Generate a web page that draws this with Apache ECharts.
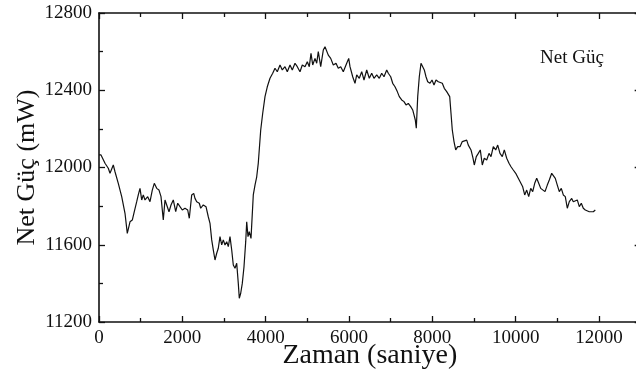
<!DOCTYPE html>
<html>
<head>
<meta charset="utf-8">
<script src="https://cdn.jsdelivr.net/npm/echarts@6/dist/echarts.min.js"></script>
<style>html,body{margin:0;padding:0;background:#fff}#c{width:636px;height:376px}</style>
</head>
<body>
<div id="c"></div>
<script>
const seriesName = 'Net Güç';
const xTitle = 'Zaman (saniye)';
const yTitle = 'Net Güç (mW)';
const times = [0,48,79,144,223,264,343,384,463,545,624,679,744,799,847,905,943,984,1025,1063,1104,1169,1224,1279,1327,1385,1440,1488,1543,1584,1625,1680,1728,1783,1841,1889,1944,1999,2064,2129,2167,2225,2273,2304,2345,2407,2441,2503,2568,2623,2664,2705,2743,2784,2825,2863,2904,2945,2983,3024,3065,3103,3144,3185,3223,3264,3305,3343,3367,3401,3439,3480,3521,3545,3576,3607,3648,3703,3744,3785,3823,3881,3929,3984,4039,4104,4169,4224,4279,4344,4399,4464,4519,4584,4639,4704,4759,4824,4879,4944,4999,5047,5088,5129,5184,5225,5263,5321,5383,5424,5465,5503,5561,5623,5688,5743,5801,5863,5945,5993,6024,6089,6144,6185,6247,6305,6360,6425,6487,6545,6600,6665,6727,6785,6840,6905,6943,7001,7049,7104,7159,7207,7265,7320,7368,7423,7481,7529,7560,7591,7615,7649,7687,7728,7769,7807,7848,7889,7944,7992,8040,8088,8143,8184,8239,8287,8345,8383,8417,8448,8479,8520,8561,8609,8664,8719,8767,8825,8863,8928,8976,9007,9055,9103,9151,9199,9247,9305,9360,9408,9463,9521,9569,9624,9679,9727,9785,9840,9888,9943,10001,10063,10104,10169,10217,10265,10313,10361,10409,10457,10505,10553,10601,10649,10704,10759,10807,10865,10903,10951,10999,11047,11095,11143,11191,11239,11287,11345,11383,11424,11479,11527,11575,11623,11671,11719,11767,11815,11863,11911];
const power = [12065,12065,12056,12022,11996,11970,12013,11978,11918,11849,11763,11659,11719,11728,11771,11823,11858,11892,11832,11858,11832,11849,11823,11883,11918,11892,11883,11849,11728,11832,11806,11771,11806,11832,11771,11815,11797,11780,11789,11780,11737,11858,11866,11840,11823,11815,11789,11806,11797,11745,11711,11625,11573,11521,11556,11582,11642,11599,11625,11599,11616,11590,11642,11573,11495,11478,11504,11400,11323,11349,11400,11486,11616,11719,11642,11668,11633,11858,11909,11952,12023,12194,12281,12367,12418,12462,12488,12514,12496,12531,12505,12522,12496,12531,12505,12540,12522,12496,12531,12522,12548,12522,12591,12531,12565,12540,12600,12522,12608,12625,12617,12582,12565,12531,12540,12514,12522,12496,12540,12565,12522,12470,12436,12479,12462,12496,12453,12505,12462,12488,12462,12479,12462,12488,12470,12505,12488,12470,12436,12418,12393,12367,12350,12341,12324,12332,12315,12298,12272,12246,12203,12367,12470,12540,12522,12505,12470,12444,12436,12453,12427,12453,12444,12453,12436,12410,12393,12393,12367,12281,12194,12134,12091,12108,12108,12134,12125,12142,12116,12091,12048,12013,12056,12073,12091,12013,12048,12039,12073,12056,12108,12091,12116,12073,12056,12091,12048,12022,12004,11987,11970,11944,11952,11900,11858,11883,11849,11892,11875,11918,11944,11918,11892,11883,11875,11909,11935,11970,11978,11944,11909,11875,11892,11858,11849,11789,11823,11840,11823,11815,11832,11797,11815,11789,11780,11789,11771,11780,11771,11780];
const xTicks = [0,2000,4000,6000,8000,10000,12000];
const yTicks = [11200,11600,12000,12400,12800];

const serif = 'Liberation Serif';
const chart = echarts.init(document.getElementById('c'));
const axisLine = {show:true, onZero:false, lineStyle:{color:'#111', width:1.6}};
const tickIn = {show:true, inside:true, length:6, lineStyle:{color:'#111', width:1.3}};
const minorIn = {show:true, splitNumber:2, length:4, lineStyle:{color:'#111', width:1.3}};
const lblX = {color:'#111', fontFamily:serif, fontSize:19, margin:7, formatter: v => xTicks.includes(v) ? String(v) : ''};
const lblY = {color:'#111', fontFamily:serif, fontSize:19, margin:7, formatter: v => yTicks.includes(v) ? String(v) : ''};
chart.setOption({
  animation:false,
  backgroundColor:'#fff',
  grid:{left:99, top:13, width:541.67, height:309, containLabel:false, outerBoundsMode:'none'},
  legend:{
    data:[{name:seriesName, icon:'none'}],
    left:530, top:44, itemWidth:0, itemHeight:0,
    textStyle:{fontFamily:serif, fontSize:19, color:'#111'}
  },
  xAxis:[
    {type:'value', min:0, max:13000, interval:2000, position:'bottom',
     name:xTitle, nameLocation:'middle', nameGap:20, nameMoveOverlap:false,
     nameTextStyle:{fontFamily:serif, fontSize:28, color:'#111'},
     axisLine, axisTick:tickIn, minorTick:{...minorIn}, axisLabel:lblX,
     splitLine:{show:false}},
    {type:'value', min:0, max:13000, interval:2000, position:'top',
     axisLine, axisTick:tickIn, minorTick:{...minorIn}, axisLabel:{show:false},
     splitLine:{show:false}}
  ],
  yAxis:[
    {type:'value', min:11200, max:12800, interval:400, position:'left',
     name:yTitle, nameLocation:'middle', nameGap:59, nameRotate:90, nameMoveOverlap:false,
     nameTextStyle:{fontFamily:serif, fontSize:26, color:'#111'},
     axisLine, axisTick:tickIn, minorTick:{...minorIn}, axisLabel:lblY,
     splitLine:{show:false}},
    {type:'value', min:11200, max:12800, interval:400, position:'right',
     axisLine, axisTick:tickIn, minorTick:{...minorIn}, axisLabel:{show:false},
     splitLine:{show:false}}
  ],
  series:[{
    name:seriesName, type:'line', xAxisIndex:0, yAxisIndex:0,
    data: times.map((t,i)=>[t, power[i]]),
    showSymbol:false, symbol:'none',
    lineStyle:{color:'#111', width:1.2},
    itemStyle:{color:'#111'}
  }]
});
</script>
</body>
</html>
